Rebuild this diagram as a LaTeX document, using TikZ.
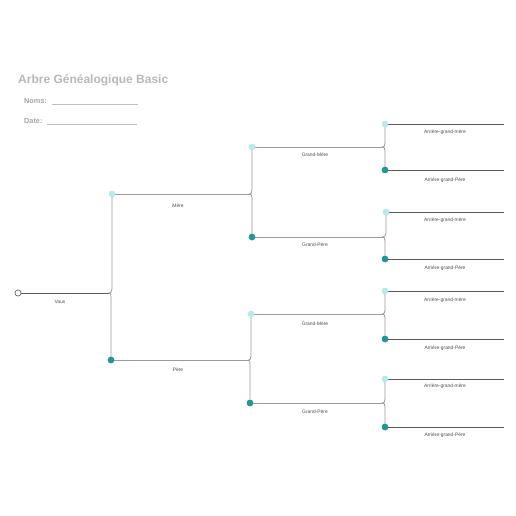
\documentclass[tikz,border=0pt]{standalone}
\usepackage{fontspec}
\setmainfont{Liberation Sans}
\usetikzlibrary{calc}
\definecolor{lcyan}{HTML}{B4ECEA}
\definecolor{teal2}{HTML}{1F9894}
\definecolor{treeg}{HTML}{9A9A9A}
\definecolor{darkg}{HTML}{5A5A5A}
\definecolor{titleg}{HTML}{B8B8B8}
\definecolor{formg}{HTML}{A6A6A6}
\definecolor{formline}{HTML}{BDBDBD}
\begin{document}
\begin{tikzpicture}[x=1pt,y=-1pt,
  tree/.style={draw=treeg,line width=0.8pt},
  leafline/.style={draw=darkg,line width=0.8pt},
  fdot/.style={circle,fill=lcyan,inner sep=0pt,minimum size=6.5pt},
  mdot/.style={circle,fill=teal2,inner sep=0pt,minimum size=6.5pt},
  odot/.style={circle,draw=darkg,fill=white,line width=0.5pt,inner sep=0pt,minimum size=6pt},
  lbl/.style={font=\fontsize{4.9}{6}\selectfont,text=black!70,inner sep=0pt},
  formlbl/.style={font=\fontsize{7.3}{9}\selectfont\bfseries,text=formg,anchor=west,inner sep=0pt}]
\useasboundingbox (0,0) rectangle (516,516);
% header
\node[anchor=west,inner sep=0pt,font=\fontsize{12}{14}\selectfont\bfseries,text=titleg] (title) at (18,80) {Arbre Généalogique Basic};
\node[formlbl] (noms) at (24,101) {Noms:};
\node[formlbl] (date) at (24,121) {Date:};
\coordinate (n1) at (52,104); \coordinate (n2) at (138,104);
\coordinate (d1) at (47,124); \coordinate (d2) at (137,124);
\draw[formline,line width=0.6pt] (n1) -- (n2);
\draw[formline,line width=0.6pt] (d1) -- (d2);
% dots
\node[odot] (vous) at (18,293) {};
\node[fdot] (mere) at (112,194) {};
\node[mdot] (pere) at (111,360) {};
\node[fdot] (gm1) at (252,147) {};
\node[mdot] (gp1) at (252,237) {};
\node[fdot] (gm2) at (251,314) {};
\node[mdot] (gp2) at (250,403) {};
\node[fdot] (a1) at (385,124) {};
\node[mdot] (a2) at (385,170) {};
\node[fdot] (a3) at (386,212) {};
\node[mdot] (a4) at (385,259) {};
\node[fdot] (a5) at (385,291) {};
\node[mdot] (a6) at (385,339) {};
\node[fdot] (a7) at (385,379) {};
\node[mdot] (a8) at (385,427) {};
% junction points
\coordinate (j0) at (109,293);
\coordinate (j1) at (249.5,194);
\coordinate (j2) at (248.5,360);
\coordinate (j3) at (382.5,147);
\coordinate (j4) at (382.5,237);
\coordinate (j5) at (382.5,314);
\coordinate (j6) at (382.5,403);
% leaf line ends
\foreach \i/\y in {1/124,2/170,3/212,4/259,5/291,6/339,7/379,8/427}
  \coordinate (e\i) at (504,\y);
% horizontal lines
\draw[leafline] (vous) -- (j0);
\draw[tree] (mere.center) -- (j1);
\draw[tree] (pere.center) -- (j2);
\draw[tree] (gm1.center) -- (j3);
\draw[tree] (gp1.center) -- (j4);
\draw[tree] (gm2.center) -- (j5);
\draw[tree] (gp2.center) -- (j6);
\foreach \i in {1,...,8} \draw[leafline] (a\i.center) -- (e\i);
% brackets
\foreach \t/\b/\j in {mere/pere/j0,gm1/gp1/j1,gm2/gp2/j2,a1/a2/j3,a3/a4/j4,a5/a6/j5,a7/a8/j6}{
  \draw[tree] (\t.center) -- ($(\t.center|-\j)+(0,-4)$)
    .. controls ($(\t.center|-\j)+(0,-1)$) and ($(\j)+(1.5,0)$) .. (\j)
    .. controls ($(\j)+(1.5,0)$) and ($(\b.center|-\j)+(0,1)$) .. ($(\b.center|-\j)+(0,4)$)
    -- (\b.center);
}
% redraw dots on top
\node[odot] at (vous) {};
\foreach \n in {mere,gm1,gm2,a1,a3,a5,a7} \node[fdot] at (\n) {};
\foreach \n in {pere,gp1,gp2,a2,a4,a6,a8} \node[mdot] at (\n) {};
% labels
\node[lbl] (lvous) at (60,302) {Vous};
\node[lbl] (lmere) at (178,206) {Mère};
\node[lbl] (lpere) at (178,370) {Père};
\node[lbl] (lgm1) at (315,155) {Grand-Mère};
\node[lbl] (lgp1) at (315,245) {Grand-Père};
\node[lbl] (lgm2) at (315,324) {Grand-Mère};
\node[lbl] (lgp2) at (315,412) {Grand-Père};
\node[lbl] (la1) at (445,132) {Arrière-grand-mère};
\node[lbl] (la2) at (445,180) {Arrière-grand-Père};
\node[lbl] (la3) at (445,220) {Arrière-grand-mère};
\node[lbl] (la4) at (445,268) {Arrière-grand-Père};
\node[lbl] (la5) at (445,300) {Arrière-grand-mère};
\node[lbl] (la6) at (445,348) {Arrière-grand-Père};
\node[lbl] (la7) at (445,386) {Arrière-grand-mère};
\node[lbl] (la8) at (445,435) {Arrière-grand-Père};
\end{tikzpicture}
\end{document}
